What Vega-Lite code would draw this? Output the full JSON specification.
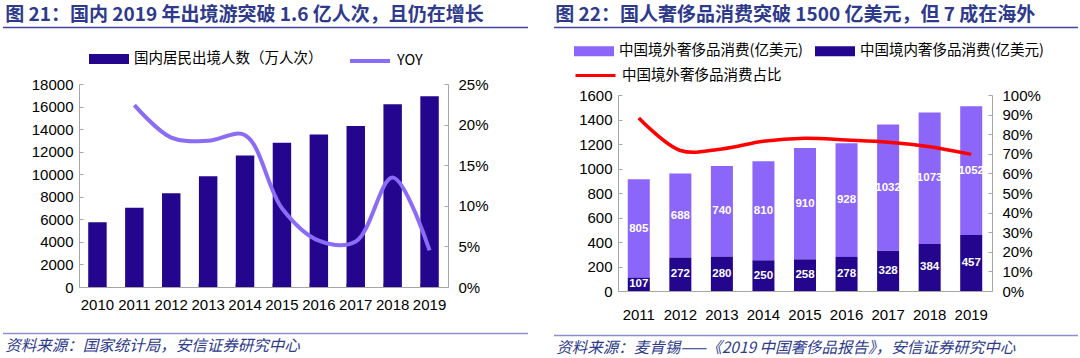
{
  "$schema": "https://vega.github.io/schema/vega-lite/v6.json",
  "background": "white",
  "padding": {"left": 2, "top": 5, "right": 0, "bottom": 0},
  "config": {
    "view": {"stroke": null},
    "axis": {"labelFont": "Liberation Sans", "labelFontSize": 15, "labelColor": "#000000", "domainColor": "#A6A6A6", "tickColor": "#A6A6A6", "grid": false, "title": null, "labelOverlap": false},
    "legend": {"labelFont": "Noto Sans CJK SC", "labelFontSize": 14.5, "labelColor": "#000000", "labelLimit": 400, "labelOffset": 25},
    "title": {"font": "Noto Sans CJK SC"}
  },
  "resolve": {"scale": {"fill": "independent", "stroke": "independent"}, "legend": {"fill": "independent", "stroke": "independent"}},
  "hconcat": [
    {
      "spacing": 20,
      "resolve": {"scale": {"fill": "independent", "stroke": "independent"}, "legend": {"fill": "independent", "stroke": "independent"}},
      "vconcat": [
        {
          "width": 369, "height": 1,
          "title": {"text": "图 21：国内 2019 年出境游突破 1.6 亿人次，且仍在增长", "anchor": "start", "frame": "bounds", "fontSize": 19, "fontWeight": "bold", "color": "#2E3A8C", "offset": 2, "dx": 3},
          "data": {"values": [{}]},
          "mark": {"type": "rule", "color": "#4046A0", "strokeWidth": 1.5},
          "encoding": {"x": {"datum": -0.206, "type": "quantitative", "scale": {"domain": [0, 1]}, "axis": null}, "x2": {"datum": 1.2168}}
        },
        {
          "width": 369, "height": 203,
          "data": {"values": [
            {"year": "2010", "count": 5739, "yoy": null},
            {"year": "2011", "count": 7025, "yoy": 0.224},
            {"year": "2012", "count": 8318, "yoy": 0.184},
            {"year": "2013", "count": 9819, "yoy": 0.180},
            {"year": "2014", "count": 11659, "yoy": 0.187},
            {"year": "2015", "count": 12786, "yoy": 0.097},
            {"year": "2016", "count": 13513, "yoy": 0.057},
            {"year": "2017", "count": 14273, "yoy": 0.056},
            {"year": "2018", "count": 16199, "yoy": 0.135},
            {"year": "2019", "count": 16921, "yoy": 0.045}
          ]},
          "layer": [
            {
              "mark": {"type": "bar"},
              "encoding": {
                "x": {"field": "year", "type": "ordinal", "scale": {"paddingInner": 0.5, "paddingOuter": 0.25}, "axis": {"labelAngle": 0, "tickSize": -4, "bandPosition": 0, "labelPadding": 14}},
                "y": {"field": "count", "type": "quantitative", "scale": {"domain": [0, 18000]}, "axis": {"orient": "left", "values": [0, 2000, 4000, 6000, 8000, 10000, 12000, 14000, 16000, 18000], "format": "d", "tickSize": -4, "labelPadding": 10, "minExtent": 76}},
                "fill": {"datum": "国内居民出境人数（万人次）", "scale": {"range": ["#24068E"]}, "legend": {"orient": "none", "legendX": 10, "legendY": -35, "symbolType": "M-1,-0.5H3V0.5H-1Z", "symbolSize": 400, "symbolStrokeWidth": 0, "title": null}}
              }
            },
            {
              "mark": {"type": "line", "interpolate": "catmull-rom", "strokeWidth": 4},
              "encoding": {
                "x": {"field": "year", "type": "ordinal"},
                "y": {"field": "yoy", "type": "quantitative", "scale": {"domain": [0, 0.25]}, "axis": {"orient": "right", "values": [0, 0.05, 0.1, 0.15, 0.2, 0.25], "format": ".0%", "tickSize": -4, "labelPadding": 14}},
                "stroke": {"datum": "YOY", "scale": {"range": ["#8B6CF6"]}, "legend": {"orient": "none", "legendX": 269, "legendY": -35, "symbolType": "M-1,0H3", "symbolSize": 400, "symbolStrokeWidth": 4, "title": null}}
              }
            }
          ],
          "resolve": {"scale": {"y": "independent"}}
        },
        {
          "width": 369, "height": 1,
          "title": {"text": "资料来源：国家统计局，安信证券研究中心", "orient": "bottom", "anchor": "start", "frame": "bounds", "fontSize": 15.5, "fontStyle": "italic", "fontWeight": "normal", "color": "#2E3A8C", "offset": 5, "dx": 3},
          "data": {"values": [{}]},
          "mark": {"type": "rule", "color": "#8C8FCB", "strokeWidth": 1.5},
          "encoding": {"x": {"datum": -0.206, "type": "quantitative", "scale": {"domain": [0, 1]}, "axis": null}, "x2": {"datum": 1.2168}}
        }
      ]
    },
    {
      "spacing": 12,
      "resolve": {"scale": {"fill": "independent", "stroke": "independent"}, "legend": {"fill": "independent", "stroke": "independent"}},
      "vconcat": [
        {
          "width": 374, "height": 1,
          "title": {"text": "图 22：国人奢侈品消费突破 1500 亿美元，但 7 成在海外", "anchor": "start", "frame": "bounds", "fontSize": 19, "fontWeight": "bold", "color": "#2E3A8C", "offset": 2, "dx": 2},
          "data": {"values": [{}]},
          "mark": {"type": "rule", "color": "#4046A0", "strokeWidth": 1.5},
          "encoding": {"x": {"datum": -0.1711, "type": "quantitative", "scale": {"domain": [0, 1]}, "axis": null}, "x2": {"datum": 1.2299}}
        },
        {
          "width": 374, "height": 196,
          "layer": [
            {
              "data": {"values": [
                {"year": "2011", "type": "中国境外奢侈品消费(亿美元)", "value": 805},
                {"year": "2012", "type": "中国境外奢侈品消费(亿美元)", "value": 688},
                {"year": "2013", "type": "中国境外奢侈品消费(亿美元)", "value": 740},
                {"year": "2014", "type": "中国境外奢侈品消费(亿美元)", "value": 810},
                {"year": "2015", "type": "中国境外奢侈品消费(亿美元)", "value": 910},
                {"year": "2016", "type": "中国境外奢侈品消费(亿美元)", "value": 928},
                {"year": "2017", "type": "中国境外奢侈品消费(亿美元)", "value": 1032},
                {"year": "2018", "type": "中国境外奢侈品消费(亿美元)", "value": 1073},
                {"year": "2019", "type": "中国境外奢侈品消费(亿美元)", "value": 1052},
                {"year": "2011", "type": "中国境内奢侈品消费(亿美元)", "value": 107},
                {"year": "2012", "type": "中国境内奢侈品消费(亿美元)", "value": 272},
                {"year": "2013", "type": "中国境内奢侈品消费(亿美元)", "value": 280},
                {"year": "2014", "type": "中国境内奢侈品消费(亿美元)", "value": 250},
                {"year": "2015", "type": "中国境内奢侈品消费(亿美元)", "value": 258},
                {"year": "2016", "type": "中国境内奢侈品消费(亿美元)", "value": 278},
                {"year": "2017", "type": "中国境内奢侈品消费(亿美元)", "value": 328},
                {"year": "2018", "type": "中国境内奢侈品消费(亿美元)", "value": 384},
                {"year": "2019", "type": "中国境内奢侈品消费(亿美元)", "value": 457}
              ]},
              "layer": [
                {
                  "mark": {"type": "bar"},
                  "encoding": {
                    "x": {"field": "year", "type": "ordinal", "scale": {"paddingInner": 0.47, "paddingOuter": 0.235}, "axis": {"labelAngle": 0, "ticks": false, "labelPadding": 16}},
                    "y": {"field": "value", "type": "quantitative", "stack": "zero", "scale": {"domain": [0, 1600]}, "axis": {"orient": "left", "values": [0, 200, 400, 600, 800, 1000, 1200, 1400, 1600], "format": "d", "tickSize": -4, "labelPadding": 10, "minExtent": 64, "labelOverlap": false}},
                    "order": {"field": "type", "sort": "ascending"},
                    "fill": {"field": "type", "type": "nominal", "scale": {"domain": ["中国境外奢侈品消费(亿美元)", "中国境内奢侈品消费(亿美元)"], "range": ["#8B66F8", "#24068E"]}, "legend": {"orient": "none", "legendX": -44, "legendY": -54, "direction": "horizontal", "columns": 2, "columnPadding": 12, "symbolType": "M-1,-0.5H3V0.5H-1Z", "symbolSize": 400, "symbolStrokeWidth": 0, "title": null}}
                  }
                },
                {
                  "transform": [
                    {"stack": "value", "groupby": ["year"], "sort": [{"field": "type", "order": "ascending"}], "as": ["v0", "v1"]},
                    {"calculate": "(datum.v0 + datum.v1) / 2", "as": "mid"}
                  ],
                  "mark": {"type": "text", "color": "white", "font": "Liberation Sans", "fontWeight": "bold", "fontSize": 11.5, "baseline": "middle"},
                  "encoding": {
                    "x": {"field": "year", "type": "ordinal"},
                    "y": {"field": "mid", "type": "quantitative", "axis": {"orient": "left", "values": [0, 200, 400, 600, 800, 1000, 1200, 1400, 1600], "format": "d", "tickSize": -4, "labelPadding": 10, "minExtent": 64, "labelOverlap": false}},
                    "text": {"field": "value", "type": "quantitative"}
                  }
                }
              ]
            },
            {
              "data": {"values": [
                {"year": "2011", "share": 0.883},
                {"year": "2012", "share": 0.717},
                {"year": "2013", "share": 0.725},
                {"year": "2014", "share": 0.764},
                {"year": "2015", "share": 0.779},
                {"year": "2016", "share": 0.770},
                {"year": "2017", "share": 0.759},
                {"year": "2018", "share": 0.736},
                {"year": "2019", "share": 0.697}
              ]},
              "mark": {"type": "line", "interpolate": "catmull-rom", "strokeWidth": 3.5, "color": "#FF0000"},
              "encoding": {
                "x": {"field": "year", "type": "ordinal"},
                "y": {"field": "share", "type": "quantitative", "scale": {"domain": [0, 1]}, "axis": {"orient": "right", "values": [0, 0.1, 0.2, 0.3, 0.4, 0.5, 0.6, 0.7, 0.8, 0.9, 1], "format": ".0%", "tickSize": -4, "labelPadding": 14}},
                "stroke": {"datum": "中国境外奢侈品消费占比", "scale": {"range": ["#FF0000"]}, "legend": {"orient": "none", "legendX": -44, "legendY": -31, "symbolType": "M-1,0H3", "symbolSize": 400, "symbolStrokeWidth": 3, "title": null}}
              }
            }
          ],
          "resolve": {"scale": {"y": "independent"}}
        },
        {
          "width": 374, "height": 1,
          "title": {"text": "资料来源：麦肯锡——《2019 中国奢侈品报告》，安信证券研究中心", "orient": "bottom", "anchor": "start", "frame": "bounds", "fontSize": 15.5, "fontStyle": "italic", "fontWeight": "normal", "color": "#2E3A8C", "offset": 5, "dx": 3},
          "data": {"values": [{}]},
          "mark": {"type": "rule", "color": "#8C8FCB", "strokeWidth": 1.5},
          "encoding": {"x": {"datum": -0.1711, "type": "quantitative", "scale": {"domain": [0, 1]}, "axis": null}, "x2": {"datum": 1.2299}}
        }
      ]
    }
  ],
  "spacing": 24
}
